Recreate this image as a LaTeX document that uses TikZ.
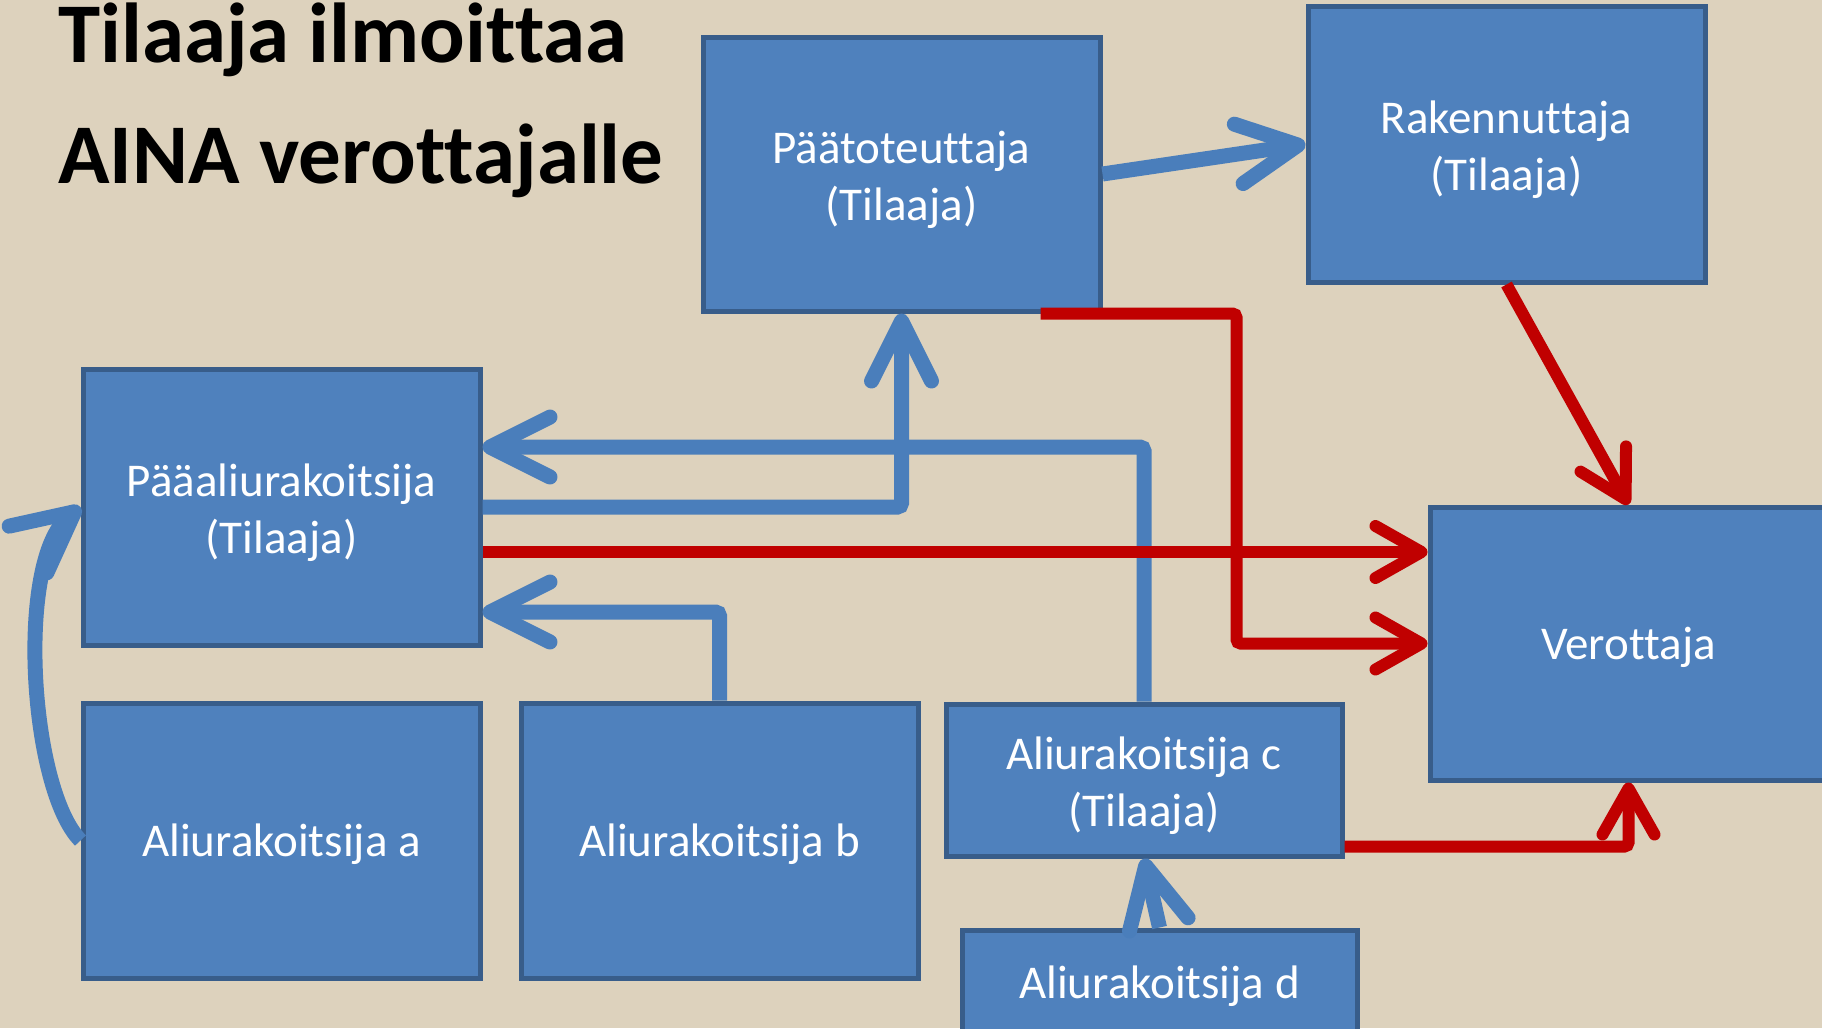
\documentclass[tikz,border=0pt]{standalone}
\usepackage{fontspec}
\setmainfont{Carlito}[Ligatures={NoCommon}]
\usetikzlibrary{arrows.meta,calc}
\definecolor{bgbeige}{RGB}{221,210,189}
\definecolor{boxblue}{RGB}{79,129,189}
\definecolor{boxedge}{RGB}{56,93,138}
\definecolor{arrblue}{RGB}{74,126,187}
\definecolor{arrred}{RGB}{192,0,0}
\newcommand{\twostrut}{\rule{0pt}{44pt}}
\newcommand{\onestrut}{\rule{0pt}{40pt}}
\begin{document}
\begin{tikzpicture}[x=1pt,y=-1pt,
  box/.style={draw=boxedge, line width=5pt, fill=boxblue, text=white,
    inner sep=0pt, align=center, font=\fontsize{47}{57}\selectfont},
  bluearr/.style={draw=arrblue, line width=15pt, rounded corners=4pt,
    -{Straight Barb[length=60pt, width=60pt, round]}},
  redarr/.style={draw=arrred, line width=12pt, rounded corners=4pt,
    -{Straight Barb[length=46pt, width=52pt, round]}},
  titletext/.style={anchor=base west, inner sep=0pt, text=black,
    font=\fontsize{85}{100}\selectfont\bfseries}]
\useasboundingbox (0,0) rectangle (1822,1028);
\clip (0,0) rectangle (1822,1028);
\fill[bgbeige] (0,0) rectangle (1822,1028);

% title
\node[titletext] (t1) at (58,62) {Tilaaja ilmoittaa};
\node[titletext] (t2) at (58,183) {AINA verottajalle};

% boxes
\node[box, minimum width=397pt, minimum height=274pt] (pt) at (901.5,174) {\twostrut Päätoteuttaja\\(Tilaaja)};
\node[box, minimum width=397pt, minimum height=276pt] (rk) at (1506.5,144) {\twostrut Rakennuttaja\\(Tilaaja)};
\node[box, minimum width=397pt, minimum height=276pt] (pal) at (281.5,507) {\twostrut Pääaliurakoitsija\\(Tilaaja)};
\node[box, minimum width=397pt, minimum height=273pt] (ver) at (1628.5,643.5) {\onestrut Verottaja};
\node[box, minimum width=397pt, minimum height=275pt] (a) at (281.5,840.5) {\onestrut Aliurakoitsija a};
\node[box, minimum width=397pt, minimum height=275pt] (b) at (719.5,840.5) {\onestrut Aliurakoitsija b};
\node[box, minimum width=396pt, minimum height=152pt] (c) at (1144,780) {\twostrut Aliurakoitsija c\\(Tilaaja)};
\node[box, minimum width=395pt, minimum height=106pt] (d) at (1159.5,983) {\onestrut Aliurakoitsija d};

% blue connectors
\draw[bluearr] (pt.east) -- (rk.west);
\draw[bluearr] (pal.east) -| (pt.south);
\draw[bluearr] (c.north) |- ($(pal.east)+(0,-60)$);
\draw[bluearr] (b.north) |- ($(pal.east)+(0,105)$);
\draw[bluearr] (d.north) -- (c.south);
\draw[bluearr, rounded corners=0pt] (a.west) .. controls (30,790) and (15,560) .. (pal.west);

% red connectors
\coordinate (r1) at ($(pal.east)+(0,45)$);
\draw[redarr] (r1) -- (r1 -| ver.west);
\coordinate (r2) at ($(pt.south east)+(-62,0)$);
\draw[redarr] (r2) -- ++(196,0) |- (ver.west);
\draw[redarr] (rk.south) -- (ver.north);
\coordinate (r3) at ($(c.south east)+(0,-12)$);
\draw[redarr] (r3) -| (ver.south);
\end{tikzpicture}
\end{document}
